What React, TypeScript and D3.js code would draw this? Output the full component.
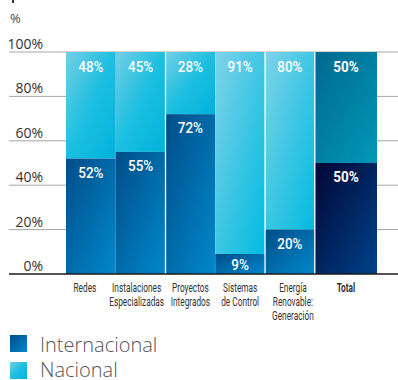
import React from "react";
import * as d3 from "d3";

const categories: string[][] = [
  ["Redes"],
  ["Instalaciones", "Especializadas"],
  ["Proyectos", "Integrados"],
  ["Sistemas", "de Control"],
  ["Energía", "Renovable:", "Generación"],
  ["Total"],
];
const internacional = [52, 55, 72, 9, 20, 50];
const nacional = [48, 45, 28, 91, 80, 50];
const yTicks = [0, 20, 40, 60, 80, 100];
const legendItems = ["Internacional", "Nacional"];

// layout / style settings
const widthWeights = [1, 1, 1, 1, 1, 1.25];
const separatorBefore = [false, false, true, false, true, true];
const labelShift = [-6, -4, 0, 0, 3, 0];

const W = 398;
const H = 380;
const plotLeft = 66;
const plotRight = 377;
const yTop = 52;
const yBottom = 274;

export default function App() {
  const cum = [0];
  widthWeights.forEach((w) => cum.push(cum[cum.length - 1] + w));
  const x = d3.scaleLinear().domain([0, cum[cum.length - 1]]).range([plotLeft, plotRight]);
  const y = d3.scaleLinear().domain([0, 100]).range([yBottom, yTop]);
  const condensed = "Roboto, 'Noto Sans', sans-serif";
  const regular = "'Open Sans', 'Noto Sans', sans-serif";

  return (
    <svg
      width={W}
      height={H}
      style={{ position: "absolute", left: 0, top: 0, display: "block" }}
    >
      <defs>
        <linearGradient id="gNac" x1="0" y1="0" x2="1" y2="1">
          <stop offset="0" stopColor="#74cfe7" />
          <stop offset="0.5" stopColor="#1cbfe0" />
          <stop offset="1" stopColor="#00b2dc" />
        </linearGradient>
        <linearGradient id="gNacLight" x1="0" y1="0" x2="1" y2="1">
          <stop offset="0" stopColor="#80d3ea" />
          <stop offset="0.5" stopColor="#3ec6e4" />
          <stop offset="1" stopColor="#00bbe0" />
        </linearGradient>
        <linearGradient id="gInt" x1="0" y1="0" x2="1" y2="1">
          <stop offset="0" stopColor="#004d88" />
          <stop offset="1" stopColor="#0088cb" />
        </linearGradient>
        <linearGradient id="gTotNac" x1="0" y1="0" x2="1" y2="1">
          <stop offset="0" stopColor="#006890" />
          <stop offset="1" stopColor="#0098b6" />
        </linearGradient>
        <linearGradient id="gTotInt" x1="0" y1="0" x2="1" y2="1">
          <stop offset="0" stopColor="#000634" />
          <stop offset="1" stopColor="#00428a" />
        </linearGradient>
      </defs>

      <rect x={12} y={0} width={2} height={3} fill="#333" />
      <text x={10} y={23} fontSize={13} fill="#444" fontFamily={regular}>%</text>

      {yTicks.filter((t) => t > 0).map((t) => (
        <line key={"g" + t} x1={9} x2={W} y1={y(t)} y2={y(t)} stroke="#a6a6a6" strokeWidth={1} />
      ))}
      {yTicks.map((t) => (
        <text
          key={"t" + t}
          x={43}
          y={y(t) - 3}
          textAnchor="end"
          fontSize={14}
          fill="#333"
          fontFamily={regular}
        >
          {t}%
        </text>
      ))}

      {categories.map((c, i) => {
        const x0 = x(cum[i]);
        const x1 = x(cum[i + 1]);
        const isTotal = i === categories.length - 1;
        const intTop = y(internacional[i]);
        const nacTop = y(internacional[i] + nacional[i]);
        const cx = (x0 + x1) / 2;
        const nacFill = isTotal ? "url(#gTotNac)" : i >= 3 ? "url(#gNacLight)" : "url(#gNac)";
        const intFill = isTotal ? "url(#gTotInt)" : "url(#gInt)";
        return (
          <g key={i}>
            <rect x={x0} y={nacTop} width={x1 - x0} height={intTop - nacTop} fill={nacFill} />
            <rect x={x0} y={intTop} width={x1 - x0} height={yBottom - intTop} fill={intFill} />
            {separatorBefore[i] && (
              <line x1={x0} x2={x0} y1={yTop} y2={yBottom} stroke="#ffffff" strokeWidth={1.3} />
            )}
            <text
              transform={`translate(${cx},${nacTop + 20}) scale(0.9,1)`}
              textAnchor="middle"
              fontSize={15}
              fontWeight={isTotal ? 700 : 500}
              fill="#ffffff"
              fontFamily={condensed}
            >
              {nacional[i]}%
            </text>
            <text
              transform={`translate(${cx},${Math.min(intTop + 19, yBottom - 4)}) scale(0.9,1)`}
              textAnchor="middle"
              fontSize={15}
              fontWeight={isTotal ? 700 : 500}
              fill="#ffffff"
              fontFamily={condensed}
            >
              {internacional[i]}%
            </text>
            <text
              transform={`translate(${cx + labelShift[i]},292) scale(0.69,1)`}
              textAnchor="middle"
              fontSize={12}
              fontWeight={isTotal ? 700 : 400}
              fill="#333"
              fontFamily={condensed}
            >
              {c.map((line, k) => (
                <tspan key={k} x={0} dy={k === 0 ? 0 : 14}>
                  {line}
                </tspan>
              ))}
            </text>
          </g>
        );
      })}

      <line x1={9} x2={W} y1={yBottom} y2={yBottom} stroke="#1a1a1a" strokeWidth={1.5} />

      {legendItems.map((name, i) => (
        <g key={name}>
          <rect x={10} y={335 + i * 27} width={17} height={17} fill={i === 0 ? "url(#gInt)" : "url(#gNac)"} />
          <text
            x={40}
            y={352 + i * 25}
            fontSize={20}
            fontWeight={300}
            fill="#555"
            fontFamily={regular}
          >
            {name}
          </text>
        </g>
      ))}
    </svg>
  );
}
